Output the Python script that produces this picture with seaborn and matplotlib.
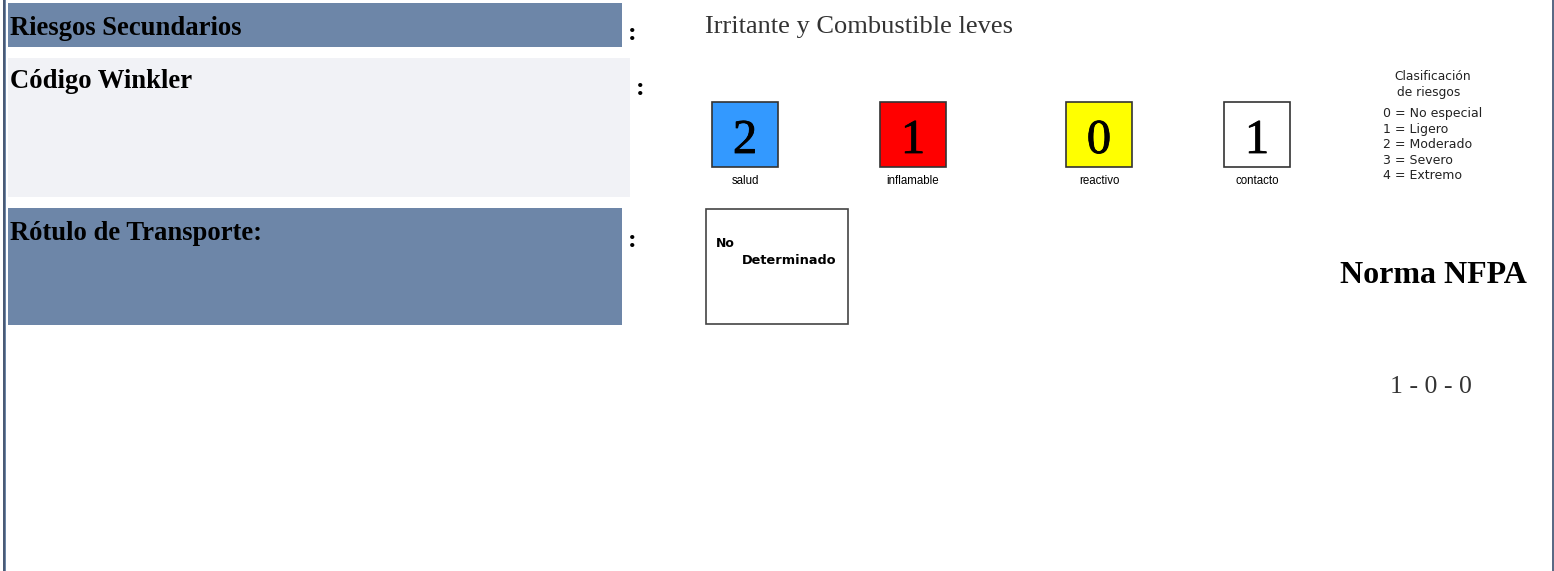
import matplotlib
matplotlib.use("Agg")
import matplotlib.pyplot as plt
import matplotlib.patheffects as pe
import seaborn as sns
from matplotlib.patches import Rectangle

# ---- data ----
row_labels = ["Riesgos Secundarios", "Código Winkler", "Rótulo de Transporte:"]
row_value = "Irritante y Combustible leves"
nfpa_categories = ["salud", "inflamable", "reactivo", "contacto"]
nfpa_values = [2, 1, 0, 1]
nfpa_colors = ["#3399ff", "#ff0000", "#ffff00", "#ffffff"]
legend_title = ["Clasificación", "de riesgos"]
legend_lines = ["0 = No especial", "1 = Ligero", "2 = Moderado", "3 = Severo", "4 = Extremo"]
transport_label = ["No", "Determinado"]
norma_title = "Norma NFPA"
norma_code = "1 - 0 - 0"

sns.set_theme(style="white")
plt.rcParams["font.family"] = ["Liberation Serif", "DejaVu Serif"]

W, H = 1554, 571
fig = plt.figure(figsize=(W / 100, H / 100), dpi=100)
ax = fig.add_axes([0, 0, 1, 1])
ax.set_xlim(0, W)
ax.set_ylim(H, 0)
ax.axis("off")

# page borders
ax.add_patch(Rectangle((3, 0), 1.5, H, color="#4a5a75", lw=0))
ax.add_patch(Rectangle((4.5, 0), 1.2, H, color="#6d87a8", lw=0))
ax.add_patch(Rectangle((1551.5, 0), 2.5, H, color="#5a6a85", lw=0))

# label boxes
boxes = [(8, 3, 614, 44, "#6d86a8"), (8, 58, 622, 139, "#f1f2f6"), (8, 208, 614, 117, "#6d86a8")]
text_base = [35, 88, 240]
colon_pos = [(632, 40), (640, 95), (632, 247)]
for (x, y, w, h, c), lab, tb, (cx, cy) in zip(boxes, row_labels, text_base, colon_pos):
    ax.add_patch(Rectangle((x, y), w, h, color=c, lw=0))
    ax.text(10, tb, lab, fontsize=19.2, fontweight="bold", color="#000000", va="baseline", ha="left")
    ax.text(cx, cy, ":", fontsize=19, fontweight="bold", color="#000000", va="baseline", ha="center")

ax.text(705, 33, row_value, fontsize=19, color="#333333", va="baseline", ha="left")

# NFPA boxes
box_x = [712, 880, 1066, 1224]
bw, bh, by = 66, 65, 102
for bx, cat, val, col in zip(box_x, nfpa_categories, nfpa_values, nfpa_colors):
    ax.add_patch(Rectangle((bx, by), bw, bh, facecolor=col, edgecolor="#333333", lw=1.2))
    ax.text(bx + bw / 2, 153, str(val), fontsize=35, color="#000000", va="baseline", ha="center",
            path_effects=[pe.withStroke(linewidth=0.6, foreground="#000000")])
    ax.text(bx + bw / 2, 184, cat, fontsize=8.3, color="#000000", va="baseline", ha="center",
            family=["Liberation Sans", "DejaVu Sans"])

# legend
sans = ["DejaVu Sans", "Liberation Sans"]
ax.text(1394, 80, legend_title[0], fontsize=8.8, color="#222222", va="baseline", ha="left", family=sans)
ax.text(1397, 96, legend_title[1], fontsize=8.8, color="#222222", va="baseline", ha="left", family=sans)
for i, line in enumerate(legend_lines):
    ax.text(1383, 117 + i * 15.5, line, fontsize=9, color="#222222", va="baseline", ha="left", family=sans)

# transport label
ax.add_patch(Rectangle((706, 209), 142, 115, facecolor="#ffffff", edgecolor="#444444", lw=1.2))
ax.text(716, 247, transport_label[0], fontsize=9, fontweight="bold", color="#000000", va="baseline",
        ha="left", family=sans)
ax.text(742, 264, transport_label[1], fontsize=9.3, fontweight="bold", color="#000000", va="baseline",
        ha="left", family=sans)

# norma
ax.text(1433.5, 283, norma_title, fontsize=23, fontweight="bold", color="#000000", va="baseline", ha="center")
ax.text(1431, 393, norma_code, fontsize=18.5, color="#333333", va="baseline", ha="center")

fig.savefig("out.png", dpi=100)
